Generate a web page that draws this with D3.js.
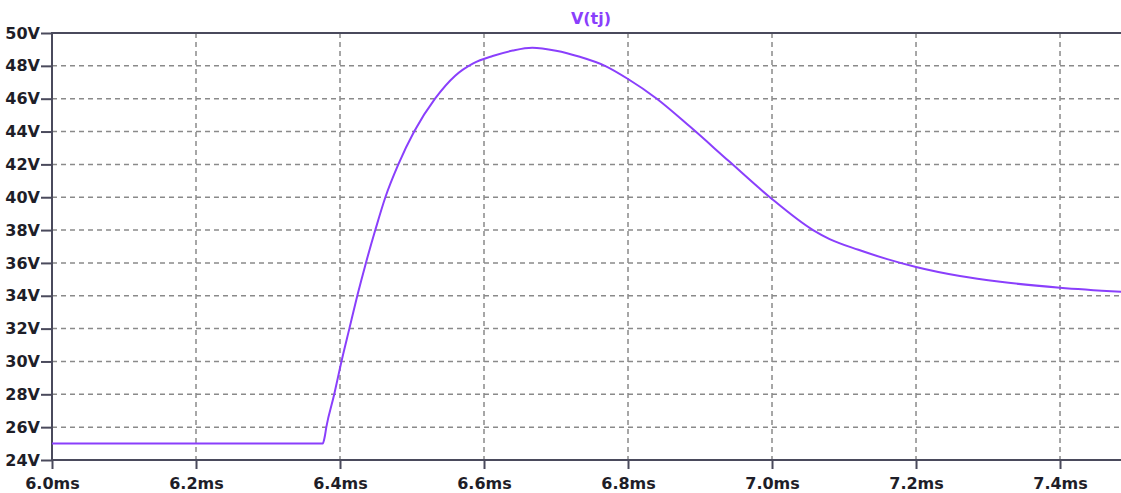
<!DOCTYPE html>
<html>
<head>
<meta charset="utf-8">
<script src="https://cdn.jsdelivr.net/npm/d3@7"></script>
<style>
  body { margin: 0; background: #fff; }
  svg { display: block; }
  .lbl { font-family: "DejaVu Sans", sans-serif; font-weight: bold; font-size: 16px; fill: #1e1e28; }
</style>
</head>
<body>
<svg id="chart" width="1121" height="493"></svg>
<script>
// trace V(tj): time in ms, voltage in V
const timeMs = [6.0, 6.376, 6.3785, 6.381, 6.392, 6.402, 6.413, 6.424, 6.436, 6.449, 6.463,
  6.481, 6.503, 6.532, 6.56, 6.585, 6.612, 6.64, 6.667, 6.70, 6.733, 6.768, 6.8, 6.84, 6.886,
  6.94, 6.997, 7.057, 7.08, 7.12, 7.16, 7.2, 7.261, 7.317, 7.4, 7.485];
const voltage = [25.0, 25.0, 25.35, 26.0, 28.0, 30.0, 32.0, 34.0, 36.0, 38.0, 40.0,
  42.0, 44.0, 46.0, 47.4, 48.15, 48.6, 48.93, 49.1, 48.92, 48.55, 48.0, 47.2, 46.0, 44.3,
  42.2, 40.0, 38.0, 37.45, 36.8, 36.23, 35.75, 35.2, 34.85, 34.49, 34.24];

const xTicks = [6.0, 6.2, 6.4, 6.6, 6.8, 7.0, 7.2, 7.4];
const yTicks = [24, 26, 28, 30, 32, 34, 36, 38, 40, 42, 44, 46, 48, 50];
const traceName = "V(tj)";

const svg = d3.select("#chart");
const margin = { top: 33, right: 0, bottom: 33, left: 52 };
const W = 1121, H = 493;

const x = d3.scaleLinear().domain([6.0, 7.4847]).range([margin.left, W - margin.right]);
const y = d3.scaleLinear().domain([24, 50]).range([H - margin.bottom, margin.top]);

const purple = "#8a3ffc";
const axisCol = "#4a4a5c";

// grid
const grid = svg.append("g");
grid.selectAll(".hg").data(yTicks.filter(v => v !== 24 && v !== 50)).enter().append("line")
  .attr("x1", x.range()[0]).attr("x2", W)
  .attr("y1", d => y(d)).attr("y2", d => y(d))
  .attr("stroke", "#8a8a8a").attr("stroke-width", 1.5).attr("stroke-dasharray", "5,4");
grid.selectAll(".vg").data(xTicks.filter(v => v !== 6.0)).enter().append("line")
  .attr("x1", d => x(d)).attr("x2", d => x(d))
  .attr("y1", y(50)).attr("y2", y(24))
  .attr("stroke", "#8a8a8a").attr("stroke-width", 1.5).attr("stroke-dasharray", "5,4");

// axes
const yAxis = d3.axisLeft(y).tickValues(yTicks).tickSize(11).tickPadding(1).tickFormat(d => d + "V");
const gy = svg.append("g").attr("transform", `translate(${x(6.0)},0)`).call(yAxis);
const xAxis = d3.axisBottom(x).tickValues(xTicks).tickSize(9).tickPadding(9).tickFormat(d => d.toFixed(1) + "ms");
const gx = svg.append("g").attr("transform", `translate(0,${y(24)})`).call(xAxis);

[gx, gy].forEach(g => {
  g.select(".domain").remove();
  g.selectAll(".tick line").attr("stroke", axisCol).attr("stroke-width", 2);
  g.selectAll(".tick text").attr("class", "lbl").attr("fill", null);
});

// frame lines: left, bottom, top
svg.append("line").attr("x1", x(6.0)).attr("x2", x(6.0)).attr("y1", y(50) - 1).attr("y2", y(24) + 1)
  .attr("stroke", axisCol).attr("stroke-width", 2);
svg.append("line").attr("x1", x(6.0)).attr("x2", W).attr("y1", y(24)).attr("y2", y(24))
  .attr("stroke", axisCol).attr("stroke-width", 2);
svg.append("line").attr("x1", x(6.0)).attr("x2", W).attr("y1", y(50)).attr("y2", y(50))
  .attr("stroke", axisCol).attr("stroke-width", 2);

// trace
const pts = timeMs.map((t, i) => [t, voltage[i]]);
const line = d3.line().x(d => x(d[0])).y(d => y(d[1])).curve(d3.curveMonotoneX);
svg.append("path").datum(pts).attr("d", line)
  .attr("fill", "none").attr("stroke", purple).attr("stroke-width", 2);

// title
svg.append("text").attr("x", 591).attr("y", 24).attr("text-anchor", "middle")
  .attr("class", "lbl").style("fill", purple).text(traceName);
</script>
</body>
</html>
